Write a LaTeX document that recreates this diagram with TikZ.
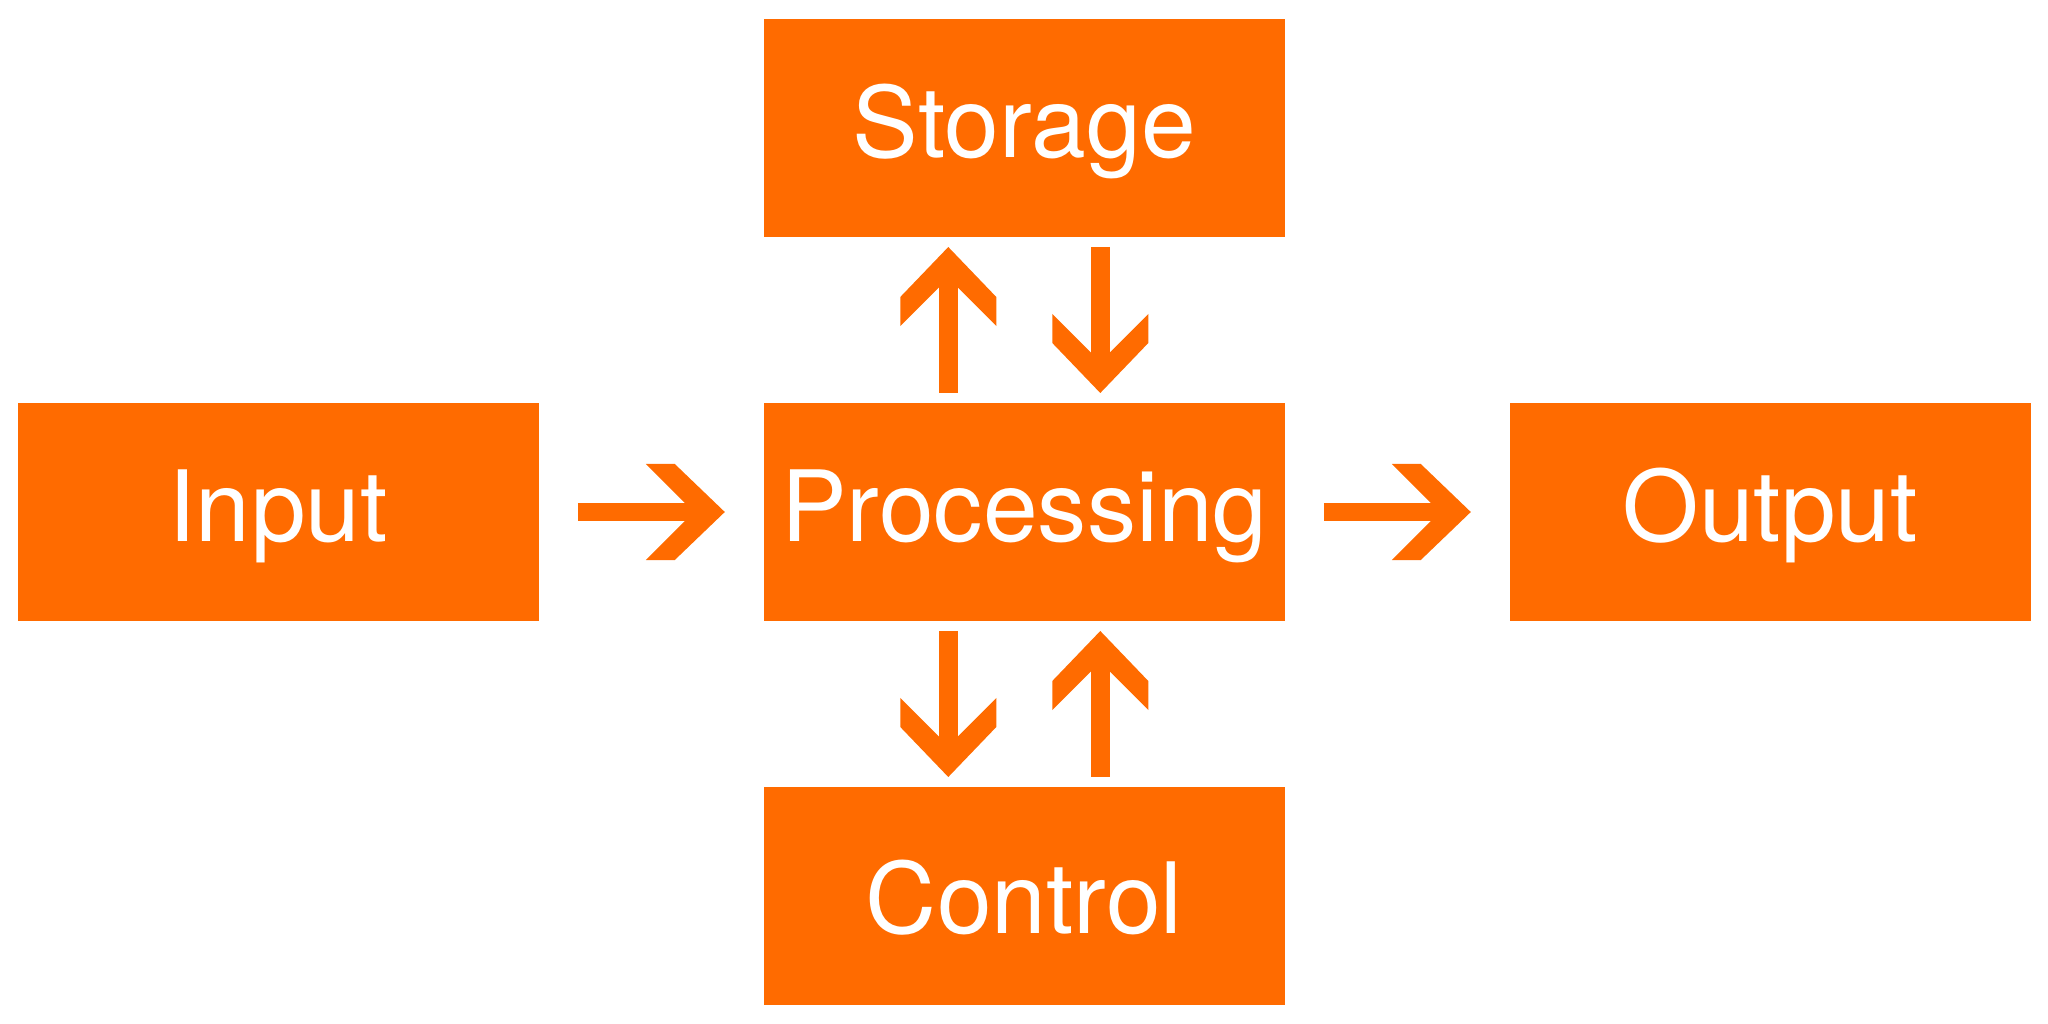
\documentclass[tikz,border=0pt]{standalone}
\usepackage{fontspec}
\setmainfont{TeX Gyre Heros}
\usetikzlibrary{positioning}
\definecolor{boxorange}{RGB}{255,107,0}
\pgfdeclarearrow{
    name = Chevron,
    setup code = {
        \pgfarrowssettipend{0pt}
        \pgfarrowssetlineend{-6pt}
        \pgfarrowssetbackend{-22.48pt}
        \pgfarrowshullpoint{0pt}{0pt}
        \pgfarrowshullpoint{-22.48pt}{13.66pt}
        \pgfarrowshullpoint{-22.48pt}{-13.66pt}
    },
    drawing code = {
        \pgfpathmoveto{\pgfqpoint{0pt}{0pt}}
        \pgfpathlineto{\pgfqpoint{-14.23pt}{13.66pt}}
        \pgfpathlineto{\pgfqpoint{-22.48pt}{13.66pt}}
        \pgfpathlineto{\pgfqpoint{-8.82pt}{0pt}}
        \pgfpathlineto{\pgfqpoint{-22.48pt}{-13.66pt}}
        \pgfpathlineto{\pgfqpoint{-14.23pt}{-13.66pt}}
        \pgfpathclose
        \pgfusepathqfill
    }
}
\begin{document}
\begin{tikzpicture}[
        box/.style={rectangle, fill=boxorange, text=white,
            minimum width=5.21cm, minimum height=2.18cm,
            inner sep=0pt, outer sep=0pt,
            font=\fontsize{28}{30}\selectfont,
            text height=20pt, text depth=3pt},
        flow/.style={boxorange, line width=0.187cm, -{Chevron},
            shorten <=0.1cm, shorten >=0.1cm},
        node distance=1.66cm and 2.25cm]
            \useasboundingbox (0,0) rectangle (20.48,10.24);
            \node[box] (in) at (2.783,5.12) {Input};
            \node[box, right=of in] (proc) {Processing};
            \node[box, right=of proc] (out) {Output};
            \node[box, above=of proc] (sto) {Storage};
            \node[box, below=of proc, text height=21.3pt, text depth=0pt] (ctl) {Control};
            \draw[flow, shorten <=0.39cm, shorten >=0.39cm] (in) -- (proc);
            \draw[flow, shorten <=0.39cm, shorten >=0.39cm] (proc) -- (out);
            \draw[flow] ([xshift=-0.76cm]proc.north) -- ([xshift=-0.76cm]sto.south);
            \draw[flow] ([xshift=0.76cm]sto.south) -- ([xshift=0.76cm]proc.north);
            \draw[flow] ([xshift=-0.76cm]proc.south) -- ([xshift=-0.76cm]ctl.north);
            \draw[flow] ([xshift=0.76cm]ctl.north) -- ([xshift=0.76cm]proc.south);
        \end{tikzpicture}
\end{document}
